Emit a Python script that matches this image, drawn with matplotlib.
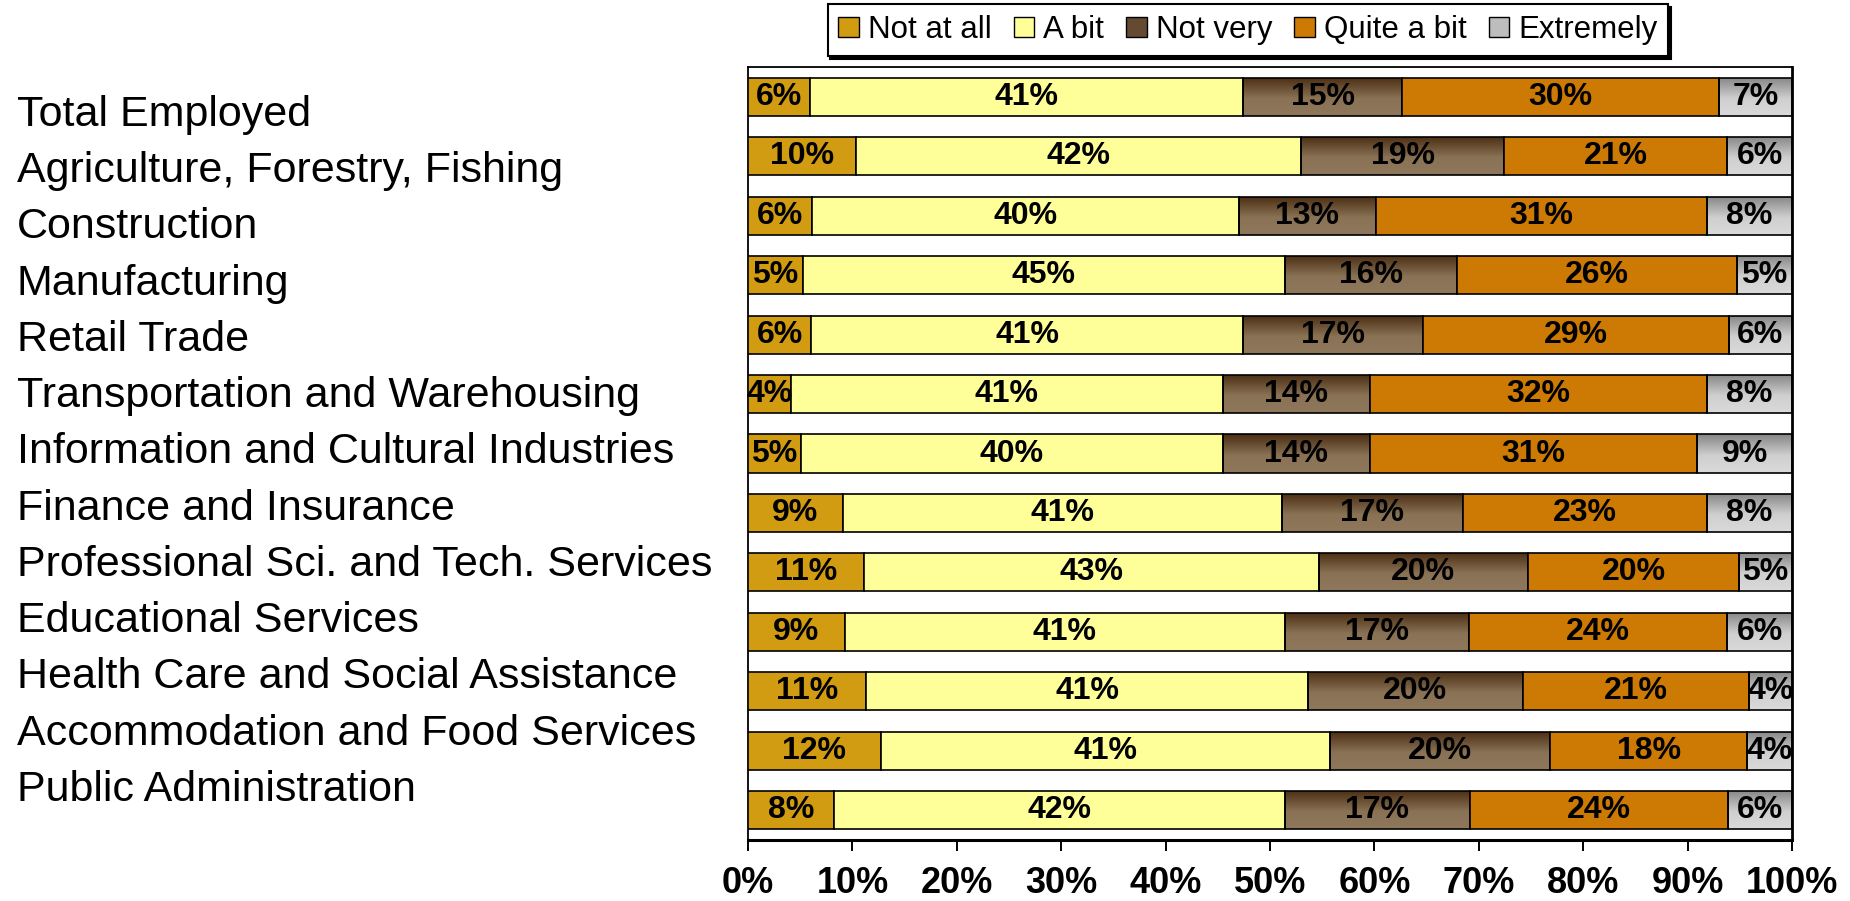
import numpy as np
import matplotlib
matplotlib.use("Agg")
import matplotlib.pyplot as plt
from matplotlib.patches import Patch
from matplotlib.colors import LinearSegmentedColormap

plt.rcParams['font.family'] = ['Liberation Sans', 'DejaVu Sans']

industries = [
    "Total Employed",
    "Agriculture, Forestry, Fishing",
    "Construction",
    "Manufacturing",
    "Retail Trade",
    "Transportation and Warehousing",
    "Information and Cultural Industries",
    "Finance and Insurance",
    "Professional Sci. and Tech. Services",
    "Educational Services",
    "Health Care and Social Assistance",
    "Accommodation and Food Services",
    "Public Administration",
]

responses = ["Not at all", "A bit", "Not very", "Quite a bit", "Extremely"]

not_at_all = [5.9, 10.1, 6.0, 5.1, 6.0, 4.1, 5.0, 8.9, 11.0, 9.0, 11.0, 12.1, 8.0]
a_bit = [41.0, 41.8, 40.0, 44.8, 40.9, 40.9, 40.0, 41.2, 43.1, 40.9, 41.0, 40.9, 42.0]
not_very = [15.1, 19.1, 12.9, 16.0, 17.0, 14.0, 14.0, 17.0, 19.9, 17.1, 20.0, 20.0, 17.2]
quite_a_bit = [30.0, 20.9, 31.0, 26.0, 29.0, 31.9, 31.0, 22.9, 20.0, 24.0, 21.0, 17.9, 24.0]
extremely = [6.9, 6.1, 8.0, 5.1, 6.0, 8.1, 9.0, 8.0, 5.0, 6.0, 4.0, 4.1, 6.0]

series = [not_at_all, a_bit, not_very, quite_a_bit, extremely]

solid_colors = ["#D29C12", "#FFFF99", None, "#CC7A03", None]
gradients = {
    2: [(0.0, "#4A2D12"), (0.55, "#8A7255"), (1.0, "#8E775B")],
    4: [(0.0, "#858585"), (0.55, "#CFCFCF"), (1.0, "#DADADA")],
}
legend_colors = ["#D29C12", "#FFFF99", "#634A30", "#CC7A03", "#BDBDBD"]

W, H = 1850, 901
fig = plt.figure(figsize=(W / 100, H / 100), dpi=100)
ax = fig.add_axes([748 / W, 1 - 840 / H, (1792 - 748) / W, (840 - 67) / H])

data = np.array(series, dtype=float)
shares = data / data.sum(axis=0) * 100.0
ypos = np.arange(len(industries))
bar_h = 0.64

left = np.zeros(len(industries))
for k, name in enumerate(responses):
    widths = shares[k]
    if k in gradients:
        bars = ax.barh(ypos, widths, left=left, height=bar_h, facecolor="none",
                       edgecolor="black", linewidth=1.2, zorder=3)
        cmap = LinearSegmentedColormap.from_list(name, gradients[k])
        grad = np.linspace(0, 1, 128).reshape(-1, 1)
        for rect in bars:
            x0, y0 = rect.get_x(), rect.get_y()
            im = ax.imshow(grad, cmap=cmap, vmin=0, vmax=1, aspect="auto",
                           interpolation="bilinear",
                           extent=(x0, x0 + rect.get_width(), y0 + rect.get_height(), y0),
                           origin="upper", zorder=2)
            im.set_clip_path(rect)
    else:
        bars = ax.barh(ypos, widths, left=left, height=bar_h, color=solid_colors[k],
                       edgecolor="black", linewidth=1.2, zorder=3)
    for i, rect in enumerate(bars):
        cx = rect.get_x() + rect.get_width() / 2
        ax.text(cx, ypos[i], f"{round(data[k, i]):d}%", ha="center", va="center",
                fontsize=23, fontweight="bold", color="black", zorder=5, clip_on=False)
    left = left + widths

ax.set_xlim(0, 100)
ax.set_ylim(len(industries) - 0.5, -0.5)
ax.set_yticks([])
ax.set_xticks(np.arange(0, 101, 10))
ax.set_xticklabels([f"{t}%" for t in range(0, 101, 10)], fontsize=26, fontweight="bold")
ax.tick_params(axis="x", direction="out", length=8, width=1.4, pad=11, color="black")
for side in ["left", "top"]:
    ax.spines[side].set_linewidth(1.3)
    ax.spines[side].set_color("black")
ax.spines["right"].set_linewidth(2.0)
ax.spines["bottom"].set_linewidth(2.2)

# category names listed down the left side
for i, label in enumerate(industries):
    fig.text(17 / W, 1 - (115 + i * 56.24) / H, label, ha="left", va="center",
             fontsize=31)

handles = [Patch(facecolor=c, edgecolor="black", linewidth=1.0) for c in legend_colors]
leg = fig.legend(handles, responses, loc="upper center",
                 bbox_to_anchor=(1248 / W, 1 - 4 / H), ncol=5, fontsize=22.5,
                 frameon=True, fancybox=False, edgecolor="black",
                 shadow={"color": "black", "alpha": 1.0},
                 handlelength=0.65, handleheight=0.65, handletextpad=0.3,
                 columnspacing=0.7, borderpad=0.35, borderaxespad=0)
leg.get_frame().set_linewidth(1.5)

fig.savefig("out.png", dpi=100, facecolor="white")
